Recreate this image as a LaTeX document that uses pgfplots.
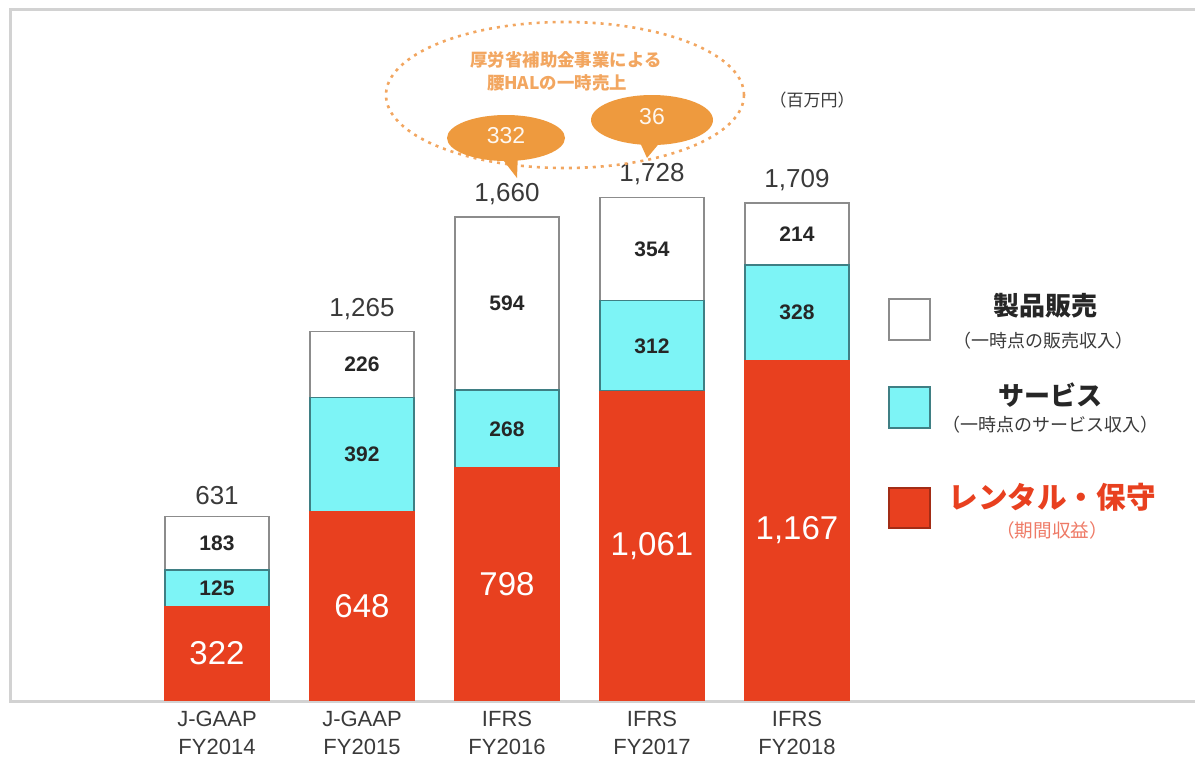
\documentclass[border=0pt]{standalone}
\usepackage{pgfplots}
\pgfplotsset{compat=1.18}
\usepackage{pgfplotstable}
\usepackage{fontspec}
\setmainfont{Liberation Sans}
\newfontfamily\cjk{Noto Sans CJK JP}
\definecolor{rentred}{HTML}{E8401F}
\definecolor{svccyan}{HTML}{7DF4F6}
\definecolor{svcedge}{HTML}{3F7F84}
\definecolor{prodedge}{HTML}{8C8C8C}
\definecolor{framegray}{HTML}{D2D2D2}
\definecolor{bubble}{HTML}{EE9A3E}
\definecolor{dotor}{HTML}{F2A660}
\definecolor{txtgray}{HTML}{3A3A3A}
\definecolor{legred}{HTML}{E8401F}
\definecolor{legredlt}{HTML}{EE7A66}

\pgfplotstableread{
x rent svc prod
0 322 125 183
1 648 392 226
2 798 268 594
3 1061 312 354
4 1167 328 214
}\datatable

\pgfplotstableread{
x y lab
0 161 322
1 324 648
2 399 798
3 530.5 {1,061}
4 583.5 {1,167}
}\rentlab

\pgfplotstableread{
x y lab
0 384.5 125
1 844 392
2 932 268
3 1217 312
4 1331 328
}\svclab

\pgfplotstableread{
x y lab
0 538.5 183
1 1153 226
2 1363 594
3 1550 354
4 1602 214
}\prodlab

\pgfplotstableread{
x y lab
0 631 631
1 1265 {1,265}
2 1660 {1,660}
3 1728 {1,728}
4 1709 {1,709}
}\totlab

\pgfplotsset{basechart/.style={
  at={(5pt,-350pt)}, anchor=south west, scale only axis,
  width=592.5pt, height=345.5pt,
  xmin=-1.42759, xmax=6.7448, ymin=0, ymax=2374.6,
  clip=false,
}}

\begin{document}
\begin{tikzpicture}
\begin{scope}[x=0.5pt,y=-0.5pt]
\useasboundingbox (0,0) rectangle (1195,762);
\draw[framegray, line width=1.5pt] (1195,9) -- (10,9) -- (10,701) -- (1195,701);
\end{scope}

\begin{axis}[basechart,
  ybar stacked, bar width=52pt,
  axis line style={draw=none},
  ytick=\empty,
  xtick={0,1,2,3,4},
  xticklabels={{J-GAAP\\FY2014},{J-GAAP\\FY2015},{IFRS\\FY2016},{IFRS\\FY2017},{IFRS\\FY2018}},
  major tick length=0pt,
  xticklabel style={align=center, text=txtgray, font=\fontsize{11}{14}\selectfont, yshift=-2pt},
]
\addplot[fill=rentred, draw=rentred, line width=0.6pt] table[x=x,y=rent]{\datatable};
\addplot[fill=svccyan, draw=svcedge, line width=0.8pt] table[x=x,y=svc]{\datatable};
\addplot[fill=white, draw=prodedge, line width=0.8pt] table[x=x,y=prod]{\datatable};
\end{axis}

\begin{axis}[basechart, hide axis]
\addplot[only marks, mark=*, mark size=0pt, mark options={draw=none,fill=none},
  nodes near coords, point meta=explicit symbolic,
  nodes near coords style={anchor=center, text=white, font=\fontsize{16.5}{18}\selectfont}]
  table[x=x,y=y,meta=lab]{\rentlab};
\addplot[only marks, mark=*, mark size=0pt, mark options={draw=none,fill=none},
  nodes near coords, point meta=explicit symbolic,
  nodes near coords style={anchor=center, text=black!85, font=\bfseries\fontsize{10.5}{12}\selectfont}]
  table[x=x,y=y,meta=lab]{\svclab};
\addplot[only marks, mark=*, mark size=0pt, mark options={draw=none,fill=none},
  nodes near coords, point meta=explicit symbolic,
  nodes near coords style={anchor=center, text=black!85, font=\bfseries\fontsize{10.5}{12}\selectfont}]
  table[x=x,y=y,meta=lab]{\prodlab};
\addplot[only marks, mark=*, mark size=0pt, mark options={draw=none,fill=none},
  nodes near coords, point meta=explicit symbolic,
  nodes near coords style={anchor=south, yshift=2.5pt, text=txtgray, font=\fontsize{13}{15}\selectfont}]
  table[x=x,y=y,meta=lab]{\totlab};
\end{axis}

\begin{scope}[x=0.5pt,y=-0.5pt]
% callouts
\draw[dotor, line width=1.3pt, dash pattern=on 1.5pt off 2.5pt] (565,95) ellipse [x radius=179, y radius=73];
\node[text=dotor, font=\cjk\bfseries\fontsize{8.7}{10}\selectfont] at (566,60) {厚労省補助金事業による};
\node[text=dotor, font=\cjk\bfseries\fontsize{8.7}{10}\selectfont] at (557,83) {腰HALの一時売上};
\fill[bubble] (506,138) ellipse [x radius=59, y radius=23];
\fill[bubble] (497,152) -- (517,178) -- (518,152) -- cycle;
\node[text=white!92!bubble, font=\fontsize{11.5}{13}\selectfont] at (506,136) {332};
\fill[bubble] (652,120) ellipse [x radius=61, y radius=25];
\fill[bubble] (638,138) -- (647,158) -- (662,140) -- cycle;
\node[text=white!92!bubble, font=\fontsize{11.5}{13}\selectfont] at (652,117) {36};
\node[text=txtgray, font=\cjk\fontsize{8.5}{10}\selectfont] at (812,100) {（百万円）};
% legend
\draw[fill=white, draw=prodedge, line width=0.8pt] (889,299) rectangle (930,340);
\draw[fill=svccyan, draw=svcedge, line width=0.8pt] (889,387) rectangle (930,428);
\draw[fill=rentred, draw=rentred!70!black, line width=0.8pt] (889,488) rectangle (930,528);
\node[text=black!85, font=\cjk\bfseries\fontsize{13}{15}\selectfont] at (1045,306) {製品販売};
\node[text=txtgray, font=\cjk\fontsize{9}{11}\selectfont] at (1043,341) {（一時点の販売収入）};
\node[text=black!85, font=\cjk\bfseries\fontsize{13}{15}\selectfont] at (1050,395) {サービス};
\node[text=txtgray, font=\cjk\fontsize{9}{11}\selectfont] at (1050,425) {（一時点のサービス収入）};
\node[text=legred, font=\cjk\bfseries\fontsize{14.8}{17}\selectfont] at (1052,497) {レンタル・保守};
\node[text=legredlt, font=\cjk\fontsize{9.3}{11}\selectfont] at (1052,530) {（期間収益）};
\end{scope}
\end{tikzpicture}
\end{document}
